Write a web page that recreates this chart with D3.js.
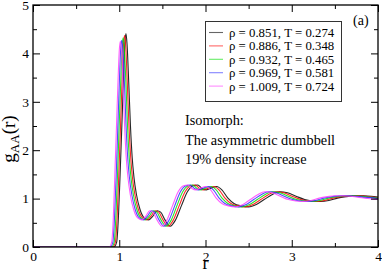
<!DOCTYPE html>
<html><head><meta charset="utf-8">
<script src="https://cdn.jsdelivr.net/npm/d3@7"></script>
<style>body{margin:0;background:#fff}svg{display:block}</style>
</head><body><svg id="c" width="382" height="272"></svg>
<script>
const seriesLabels = ["ρ = 0.851, T = 0.274","ρ = 0.886, T = 0.348","ρ = 0.932, T = 0.465","ρ = 0.969, T = 0.581","ρ = 1.009, T = 0.724"];
const seriesColors = ["#000000","#ff0000","#00e000","#3030ff","#ff40ff"];
const xTicks = [0,1,2,3,4];
const yTicks = [0,1,2,3,4,5];
const annotation = ["Isomorph:","The asymmetric dumbbell","19% density increase"];

const rBlack = [0,0.94,0.97,0.99,1.01,1.03,1.05,1.065,1.078,1.09,1.11,1.13,1.15,1.17,1.20,1.24,1.29,1.34,1.39,1.44,1.48,1.53,1.59,1.65,1.72,1.79,1.85,1.91,1.96,2.01,2.07,2.13,2.19,2.26,2.33,2.41,2.50,2.59,2.68,2.77,2.86,2.95,3.05,3.15,3.24,3.33,3.43,3.53,3.63,3.73,3.83,3.92,4.00];
const gBlack = [0,0,0.1,0.6,1.5,2.5,3.5,4.2,4.41,4.2,3.4,2.5,1.85,1.45,1.08,0.78,0.6,0.56,0.64,0.75,0.72,0.56,0.43,0.55,0.85,1.14,1.26,1.28,1.21,1.18,1.22,1.25,1.18,1.01,0.9,0.85,0.83,0.88,0.98,1.08,1.14,1.12,1.05,0.98,0.95,0.94,0.96,1.01,1.04,1.06,1.06,1.05,1.03];

const rRed = [0,0.926,0.955,0.975,0.995,1.015,1.034,1.049,1.062,1.074,1.093,1.113,1.133,1.152,1.182,1.221,1.271,1.320,1.369,1.418,1.458,1.507,1.566,1.625,1.694,1.763,1.822,1.881,1.931,1.980,2.039,2.098,2.157,2.226,2.295,2.374,2.463,2.551,2.640,2.728,2.817,2.906,3.004,3.103,3.191,3.280,3.379,3.477,3.576,3.674,3.773,3.861,3.940,4.00];
const gRed = [0,0,0.1,0.6,1.5,2.5,3.5,4.18,4.37,4.18,3.4,2.5,1.85,1.45,1.08,0.78,0.6,0.56,0.64,0.75,0.72,0.56,0.43,0.55,0.85,1.14,1.26,1.28,1.21,1.18,1.22,1.25,1.18,1.01,0.9,0.85,0.83,0.88,0.98,1.08,1.14,1.12,1.05,0.98,0.95,0.94,0.96,1.01,1.04,1.06,1.06,1.05,1.03,1.02];

const rGreen = [0,0.912,0.941,0.960,0.980,0.999,1.019,1.033,1.046,1.057,1.077,1.096,1.116,1.135,1.164,1.203,1.251,1.300,1.348,1.397,1.436,1.484,1.542,1.601,1.668,1.736,1.795,1.853,1.901,1.950,2.008,2.066,2.124,2.192,2.260,2.338,2.425,2.512,2.600,2.687,2.774,2.862,2.959,3.056,3.143,3.230,3.327,3.424,3.521,3.618,3.715,3.802,3.880,3.960,4.00];
const gGreen = [0,0,0.1,0.6,1.5,2.5,3.5,4.14,4.32,4.14,3.4,2.5,1.85,1.45,1.08,0.78,0.6,0.56,0.64,0.75,0.72,0.56,0.43,0.55,0.85,1.14,1.26,1.28,1.21,1.18,1.22,1.25,1.18,1.01,0.9,0.85,0.83,0.88,0.98,1.08,1.14,1.12,1.05,0.98,0.95,0.94,0.96,1.01,1.04,1.06,1.06,1.05,1.03,1.02,1.01];

const rBlue = [0,0.898,0.926,0.945,0.965,0.984,1.003,1.017,1.029,1.041,1.060,1.079,1.098,1.117,1.146,1.184,1.232,1.280,1.327,1.375,1.413,1.461,1.518,1.576,1.643,1.709,1.767,1.824,1.872,1.920,1.977,2.034,2.091,2.158,2.225,2.302,2.388,2.473,2.559,2.645,2.731,2.817,2.913,3.008,3.094,3.180,3.276,3.371,3.467,3.562,3.658,3.744,3.820,3.910,4.00];
const gBlue = [0,0,0.1,0.6,1.5,2.5,3.5,4.1,4.27,4.1,3.4,2.5,1.85,1.45,1.08,0.78,0.6,0.56,0.64,0.75,0.72,0.56,0.43,0.55,0.85,1.14,1.26,1.28,1.21,1.18,1.22,1.25,1.18,1.01,0.9,0.85,0.83,0.88,0.98,1.08,1.14,1.12,1.05,0.98,0.95,0.94,0.96,1.01,1.04,1.06,1.06,1.05,1.03,1.02,1.00];

const rMagenta = [0,0.884,0.912,0.931,0.949,0.968,0.987,1.001,1.013,1.025,1.043,1.062,1.081,1.100,1.128,1.166,1.213,1.260,1.307,1.354,1.391,1.438,1.495,1.551,1.617,1.683,1.739,1.795,1.842,1.889,1.946,2.002,2.059,2.124,2.190,2.265,2.350,2.435,2.519,2.604,2.688,2.773,2.867,2.961,3.046,3.130,3.224,3.318,3.412,3.506,3.600,3.685,3.760,3.850,3.930,4.00];
const gMagenta = [0,0,0.1,0.6,1.5,2.5,3.5,4.08,4.25,4.08,3.4,2.5,1.85,1.45,1.08,0.78,0.6,0.56,0.64,0.75,0.72,0.56,0.43,0.55,0.85,1.14,1.26,1.28,1.21,1.18,1.22,1.25,1.18,1.01,0.9,0.85,0.83,0.88,0.98,1.08,1.14,1.12,1.05,0.98,0.95,0.94,0.96,1.01,1.04,1.06,1.06,1.05,1.03,1.01,0.99,0.98];

const seriesR = [rBlack,rRed,rGreen,rBlue,rMagenta];
const seriesG = [gBlack,gRed,gGreen,gBlue,gMagenta];

const FONT = "Liberation Serif";
const svg = d3.select("#c");
const L=33,R=378,T=5,B=247;
const x = d3.scaleLinear().domain([0,4]).range([L,R]);
const y = d3.scaleLinear().domain([0,5]).range([B,T]);

svg.append("defs").append("clipPath").attr("id","clip").append("rect").attr("x",L).attr("y",T).attr("width",R-L).attr("height",B-T);

const line = d3.line().x(d=>x(d[0])).y(d=>y(d[1])).curve(d3.curveMonotoneX);
const gl = svg.append("g").attr("clip-path","url(#clip)");
seriesR.forEach((rs,i)=>{
  const pts = rs.map((r,j)=>[r,seriesG[i][j]]);
  gl.append("path").datum(pts).attr("d",line).attr("fill","none").attr("stroke",seriesColors[i]).attr("stroke-width",1.1).attr("stroke-opacity",0.85);
});

function axisMinor(axis, vals, len){ return axis.tickValues(vals).tickSize(len).tickFormat(""); }
const xMinor = d3.range(0.5,4,1);
const yMinor = d3.range(0.5,5,1);
const ax = [
  [d3.axisBottom(x).tickValues(xTicks).tickSize(-7).tickPadding(4).tickFormat(d3.format("d")), `translate(0,${B})`],
  [axisMinor(d3.axisBottom(x),xMinor,-4), `translate(0,${B})`],
  [d3.axisTop(x).tickValues(xTicks).tickSize(-7).tickFormat(""), `translate(0,${T})`],
  [axisMinor(d3.axisTop(x),xMinor,-4), `translate(0,${T})`],
  [d3.axisLeft(y).tickValues(yTicks).tickSize(-7).tickPadding(4).tickFormat(d3.format("d")), `translate(${L},0)`],
  [axisMinor(d3.axisLeft(y),yMinor,-4), `translate(${L},0)`],
  [d3.axisRight(y).tickValues(yTicks).tickSize(-7).tickFormat(""), `translate(${R},0)`],
  [axisMinor(d3.axisRight(y),yMinor,-4), `translate(${R},0)`]
];
ax.forEach(([a,t])=>{
  const g = svg.append("g").attr("transform",t).call(a);
  g.attr("font-family",FONT).attr("font-size",13.5);
  g.select(".domain").remove();
  g.selectAll(".tick line").attr("stroke","#000").attr("stroke-width",1);
  g.selectAll("text").attr("fill","#000");
});
svg.append("rect").attr("x",L).attr("y",T).attr("width",R-L).attr("height",B-T).attr("fill","none").attr("stroke","#000").attr("stroke-width",1.3);

svg.append("text").attr("x",(L+R)/2).attr("y",269).attr("text-anchor","middle").attr("font-size",18).text("r");
const yt = svg.append("text").attr("transform","translate(15,139) rotate(-90)").attr("text-anchor","middle").attr("font-size",19);
yt.append("tspan").text("g");
yt.append("tspan").attr("font-size",13).attr("dy",4).text("AA");
yt.append("tspan").attr("dy",-4).text("(r)");

const lg = svg.append("g");
lg.append("rect").attr("x",205.5).attr("y",21.5).attr("width",136).attr("height",80).attr("fill","#fff").attr("stroke","#333").attr("stroke-width",1);
seriesLabels.forEach((s,i)=>{
  const yy = 32.5 + i*13.4;
  lg.append("line").attr("x1",209).attr("x2",223).attr("y1",yy).attr("y2",yy).attr("stroke",seriesColors[i]).attr("stroke-width",1.1).attr("stroke-opacity",0.6);
  lg.append("text").attr("x",229).attr("y",yy+4.5).attr("font-size",12.8).text(s);
});
svg.append("text").attr("x",353).attr("y",25).attr("font-size",14).text("(a)");
annotation.forEach((s,i)=>{
  svg.append("text").attr("x",185).attr("y",125+i*19.5).attr("font-size",14.3).text(s);
});
svg.selectAll("text").attr("font-family",FONT);
</script></body></html>
